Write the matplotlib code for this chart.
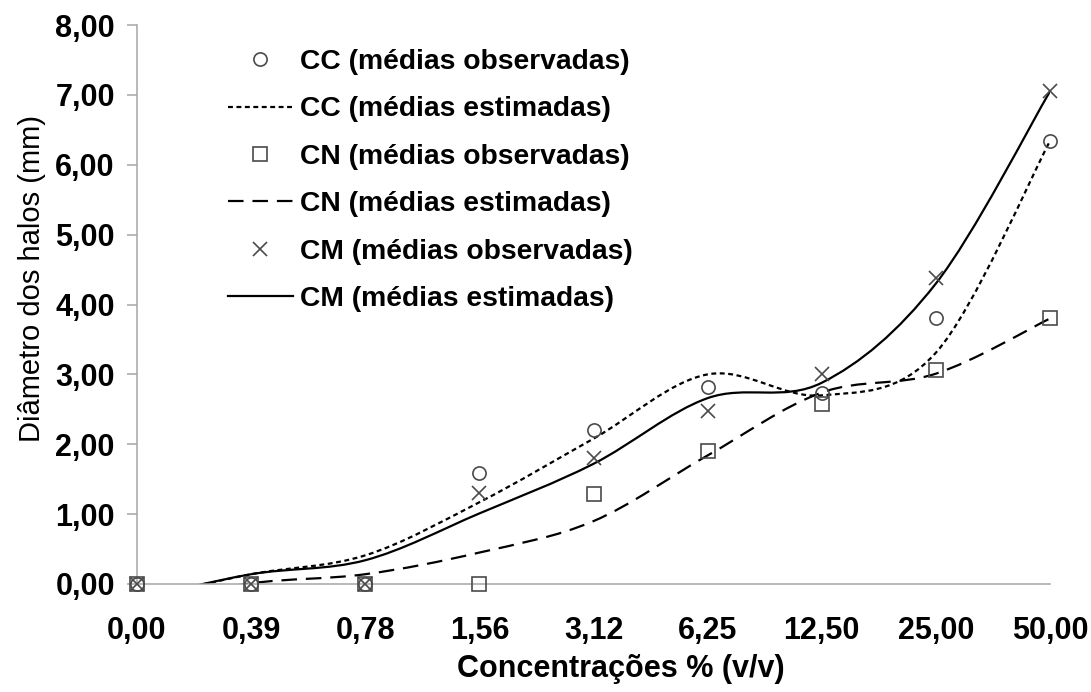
import numpy as np
import matplotlib
matplotlib.use("Agg")
import matplotlib.pyplot as plt
from matplotlib.path import Path
from matplotlib.patches import PathPatch
from matplotlib.lines import Line2D

plt.rcParams['font.family'] = ['Liberation Sans', 'DejaVu Sans']

# concentrations (categories on the x axis)
concentracoes = ["0,00", "0,39", "0,78", "1,56", "3,12", "6,25", "12,50", "25,00", "50,00"]
y_ticklabels = ["0,00", "1,00", "2,00", "3,00", "4,00", "5,00", "6,00", "7,00", "8,00"]

# observed means
cc_obs = [0.00, 0.00, 0.00, 1.59, 2.20, 2.82, 2.74, 3.81, 6.34]
cn_obs = [0.00, 0.00, 0.00, 0.00, 1.29, 1.90, 2.58, 3.06, 3.80]
cm_obs = [0.00, 0.00, 0.00, 1.30, 1.81, 2.48, 3.00, 4.38, 7.05]

# estimated means (first value falls below the axis and is clipped)
cc_est = [-0.22, 0.14, 0.41, 1.17, 2.08, 3.00, 2.70, 3.31, 6.34]
cn_est = [-0.30, 0.01, 0.14, 0.45, 0.90, 1.84, 2.74, 3.01, 3.80]
cm_est = [-0.22, 0.14, 0.34, 1.01, 1.72, 2.66, 2.88, 4.30, 7.05]


def smooth_path(ys):
    # excel-like smoothed line: cubic bezier segments through every point
    pts = np.column_stack([np.arange(len(ys)), ys]).astype(float)
    n = len(pts)
    verts = [pts[0]]
    codes = [Path.MOVETO]
    for i in range(n - 1):
        p_prev = pts[max(i - 1, 0)]
        p0 = pts[i]
        p1 = pts[i + 1]
        p_next = pts[min(i + 2, n - 1)]
        c1 = p0 + (p1 - p_prev) / 6.0
        c2 = p1 - (p_next - p0) / 6.0
        verts += [c1, c2, p1]
        codes += [Path.CURVE4] * 3
    return Path(verts, codes)


fig = plt.figure(figsize=(10.91, 6.92), dpi=100)
ax = fig.add_axes([137 / 1091, 1 - 584 / 692, 913 / 1091, 559 / 692])

x = np.arange(len(concentracoes))
mk_color = '#4a4a4a'

est_styles = [
    (cc_est, (0, (2.2, 1.6))),
    (cn_est, (0, (7, 4))),
    (cm_est, 'solid'),
]
for ys, ls in est_styles:
    patch = PathPatch(smooth_path(ys), fill=False, edgecolor='black',
                      linewidth=1.6, linestyle=ls)
    ax.add_patch(patch)

ax.plot(x, cc_obs, linestyle='none', marker='o', markersize=9.5, markerfacecolor='none',
        markeredgecolor=mk_color, markeredgewidth=1.2, clip_on=False, zorder=3)
ax.plot(x, cn_obs, linestyle='none', marker='s', markersize=9.5, markerfacecolor='none',
        markeredgecolor=mk_color, markeredgewidth=1.2, clip_on=False, zorder=3)
ax.plot(x, cm_obs, linestyle='none', marker='x', markersize=10, markerfacecolor='none',
        markeredgecolor=mk_color, markeredgewidth=1.2, clip_on=False, zorder=3)

ax.set_xlim(0, 8)
ax.set_ylim(0, 8)

ax.set_xticks(x)
ax.set_xticklabels(concentracoes, fontsize=22, fontweight='bold')
ax.set_yticks(np.arange(len(y_ticklabels)))
ax.set_yticklabels(y_ticklabels, fontsize=22, fontweight='bold')
ax.tick_params(axis='x', length=0, pad=23)
ax.tick_params(axis='y', length=7, width=1.1, color='#a6a6a6', pad=9)

for side in ['top', 'right']:
    ax.spines[side].set_visible(False)
for side in ['left', 'bottom']:
    ax.spines[side].set_color('#a6a6a6')
    ax.spines[side].set_linewidth(1.1)

ax.set_xlabel("Concentrações % (v/v)", fontsize=22, fontweight='bold')
ax.xaxis.set_label_coords(0.530, -0.125)
ax.set_ylabel("Diâmetro dos halos (mm)", fontsize=21)
ax.yaxis.set_label_coords(-0.100, 0.547)

handles = [
    Line2D([], [], linestyle='none', marker='o', markersize=9.5, markerfacecolor='none',
           markeredgecolor=mk_color, markeredgewidth=1.2),
    Line2D([], [], color='black', linewidth=1.6, linestyle=(0, (2.2, 1.6))),
    Line2D([], [], linestyle='none', marker='s', markersize=9.5, markerfacecolor='none',
           markeredgecolor=mk_color, markeredgewidth=1.2),
    Line2D([], [], color='black', linewidth=1.6, linestyle=(0, (7, 4))),
    Line2D([], [], linestyle='none', marker='x', markersize=10,
           markeredgecolor=mk_color, markeredgewidth=1.2),
    Line2D([], [], color='black', linewidth=1.6),
]
labels = [
    "CC (médias observadas)",
    "CC (médias estimadas)",
    "CN (médias observadas)",
    "CN (médias estimadas)",
    "CM (médias observadas)",
    "CM (médias estimadas)",
]
fig.legend(handles, labels, loc='upper left', bbox_to_anchor=(228 / 1091, 1 - 49 / 692),
           frameon=False, prop={'size': 20.3, 'weight': 'bold'}, handlelength=2.3,
           handletextpad=0.25, labelspacing=0.76, borderpad=0, borderaxespad=0)

fig.savefig("out.png", dpi=100)
